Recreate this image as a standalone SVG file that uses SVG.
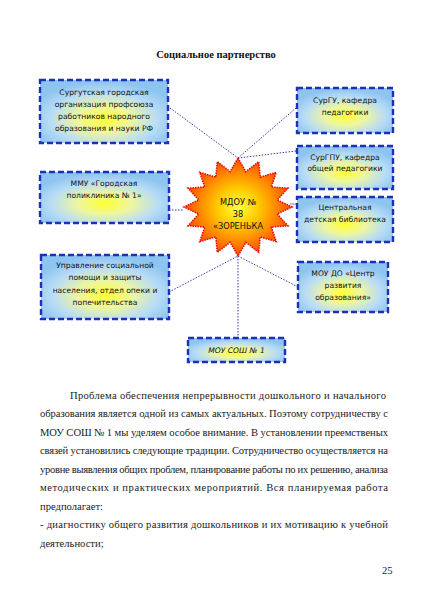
<svg xmlns="http://www.w3.org/2000/svg" width="424" height="600" viewBox="0 0 424 600">
<defs>
<radialGradient id="boxg" cx="50%" cy="62%" r="60%">
<stop offset="0" stop-color="#ffff30"/>
<stop offset="0.35" stop-color="#eef6a0"/>
<stop offset="0.7" stop-color="#b8dcf6"/>
<stop offset="1" stop-color="#8ec4f0"/>
</radialGradient>
<radialGradient id="starg" cx="50%" cy="50%" r="50%">
<stop offset="0" stop-color="#ffff40"/>
<stop offset="0.35" stop-color="#ffd000"/>
<stop offset="0.7" stop-color="#ff8a00"/>
<stop offset="1" stop-color="#ff4a00"/>
</radialGradient>
<style>
.box{fill:url(#boxg);stroke:#1f2fb8;stroke-width:2.4;stroke-dasharray:6,3}
.bt{font-family:"DejaVu Sans",sans-serif;font-size:7.6px;fill:#111;text-anchor:middle}
.st{font-family:"DejaVu Sans",sans-serif;font-size:8.2px;fill:#111;text-anchor:middle}
.con{stroke:#3838a8;stroke-width:1;stroke-dasharray:1.5,1.5;fill:none}
.body{font-family:"Liberation Serif",serif;font-size:10.6px;fill:#222}
.title{font-family:"Liberation Serif",serif;font-size:10.5px;font-weight:bold;fill:#111;text-anchor:middle}
</style>
</defs>
<rect width="424" height="600" fill="#fff"/>
<text class="title" x="216" y="58">Социальное партнерство</text>
<g id="connectors">
<line class="con" x1="170" y1="108" x2="238" y2="158"/>
<line class="con" x1="296" y1="108" x2="238" y2="158"/>
<line class="con" x1="296" y1="151" x2="238" y2="158"/>
<line x1="290" y1="204" x2="297" y2="204" stroke="#888" stroke-width="1"/>
<line class="con" x1="169" y1="210" x2="184" y2="210"/>
<line class="con" x1="169" y1="292" x2="238" y2="256"/>
<line class="con" x1="238" y1="256" x2="298" y2="287"/>
<line class="con" x1="238" y1="256" x2="238" y2="338"/>
</g>
<g id="star">
<polygon points="238,158 245.8,171.7 258.7,161.7 260.2,177.1 276.2,172.4 271.3,187 287.9,188.2 277.2,200 292,207 277.2,214 287.9,225.8 271.3,227 276.2,241.6 260.2,236.9 258.7,252.3 245.8,242.3 238,256 230.2,242.3 217.3,252.3 215.8,236.9 199.8,241.6 204.7,227 188.1,225.8 198.8,214 184,207 198.8,200 188.1,188.2 204.7,187 199.8,172.4 215.8,177.1 217.3,161.7 230.2,171.7" fill="url(#starg)" stroke="#e01010" stroke-width="1.6" stroke-dasharray="1.5,1"/>
<text class="st" x="238" y="205">МДОУ №</text>
<text class="st" x="238" y="217">38</text>
<text class="st" x="238" y="229">«ЗОРЕНЬКА</text>
</g>
<g id="n1">
<rect class="box" x="40" y="80" width="128" height="63"/>
<text class="bt" x="104" y="95">Сургутская городская</text>
<text class="bt" x="104" y="107">организация профсоюза</text>
<text class="bt" x="104" y="119">работников народного</text>
<text class="bt" x="104" y="131">образования и науки РФ</text>
</g>
<g id="n2">
<rect class="box" x="297" y="88" width="96" height="45"/>
<text class="bt" x="345" y="103">СурГУ, кафедра</text>
<text class="bt" x="345" y="115">педагогики</text>
</g>
<g id="n3">
<rect class="box" x="297" y="146" width="96" height="43"/>
<text class="bt" x="345" y="160">СурГПУ, кафедра</text>
<text class="bt" x="345" y="171">общей педагогики</text>
</g>
<g id="n4">
<rect class="box" x="297" y="197" width="96" height="45"/>
<text class="bt" x="345" y="210">Центральная</text>
<text class="bt" x="345" y="222">детская библиотека</text>
</g>
<g id="n5">
<rect class="box" x="40" y="172" width="129" height="51"/>
<text class="bt" x="104" y="186">ММУ «Городская</text>
<text class="bt" x="104" y="198">поликлиника № 1»</text>
</g>
<g id="n6">
<rect class="box" x="41" y="255" width="128" height="64"/>
<text class="bt" x="105" y="268">Управление социальной</text>
<text class="bt" x="105" y="280">помощи и защиты</text>
<text class="bt" x="105" y="293">населения, отдел опеки и</text>
<text class="bt" x="105" y="305">попечительства</text>
</g>
<g id="n7">
<rect class="box" x="298" y="262" width="90" height="50"/>
<text class="bt" x="343" y="276">МОУ ДО «Центр</text>
<text class="bt" x="343" y="288">развития</text>
<text class="bt" x="343" y="300">образования»</text>
</g>
<g id="n8">
<rect class="box" x="188" y="338" width="97" height="24"/>
<text class="bt" x="236.5" y="353" font-style="italic">МОУ СОШ № 1</text>
</g>
<g id="bodytext">
<text class="body" x="70" y="399" textLength="316" lengthAdjust="spacing">Проблема обеспечения непрерывности дошкольного и начального</text>
<text class="body" x="40" y="417" textLength="348" lengthAdjust="spacing">образования является одной из самых актуальных.  Поэтому сотрудничеству с</text>
<text class="body" x="40" y="436" textLength="348" lengthAdjust="spacing">МОУ СОШ № 1  мы уделяем особое внимание. В установлении преемственых</text>
<text class="body" x="40" y="454" textLength="348" lengthAdjust="spacing">связей  установились следующие традиции. Сотрудничество осуществляется на</text>
<text class="body" x="40" y="473" textLength="348" lengthAdjust="spacing">уровне выявления общих проблем, планирование работы по их решению, анализа</text>
<text class="body" x="40" y="491" textLength="348" lengthAdjust="spacing">методических и практических мероприятий. Вся планируемая работа</text>
<text class="body" x="40" y="510">предполагает:</text>
<text class="body" x="40" y="528" textLength="348" lengthAdjust="spacing">- диагностику общего развития дошкольников и их мотивацию к учебной</text>
<text class="body" x="40" y="547">деятельности;</text>
<text class="body" x="382" y="574" font-size="9.5">25</text>
</g>
</svg>
